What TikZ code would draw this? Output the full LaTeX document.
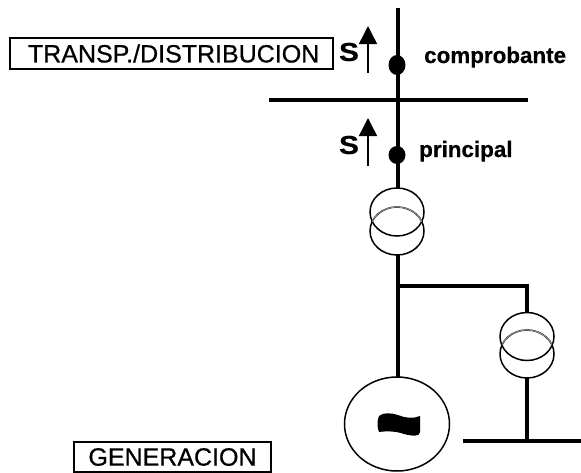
\documentclass[tikz,border=0pt]{standalone}
\usepackage{fontspec}
\setmainfont{Liberation Sans}
\newfontfamily\heavyreg[FakeBold=0.7]{Liberation Sans}
\newfontfamily\heavybold[FakeBold=0.5]{Liberation Sans Bold}
\usetikzlibrary{shapes.geometric,arrows.meta}
\tikzset{
  x=1pt,y=-1pt,
  bus/.style={line width=4.4pt},
  winding/.style={draw,ellipse,line width=1.5pt,inner sep=0pt,outer sep=0pt,minimum width=54pt,minimum height=48pt},
  machine/.style={draw,ellipse,line width=1.5pt,inner sep=0pt,outer sep=0pt,minimum width=105pt,minimum height=94pt},
  labelbox/.style={draw,line width=1.6pt,inner sep=0pt,outer sep=0pt,font=\fontsize{25}{25}\heavyreg},
  meter/.style={fill=black,ellipse,inner sep=0pt,outer sep=0pt},
  powerarrow/.style={line width=1.4pt,-{Triangle[length=18pt,width=18pt]}},
  tag/.style={inner sep=0pt,font=\fontsize{22.4}{22}\heavybold},
  powertag/.style={inner sep=0pt,xscale=1.15,font=\fontsize{26}{26}\heavybold},
  innerarc/.style={line width=1pt,color=black!45}
}
\begin{document}
\begin{tikzpicture}
\useasboundingbox (0,0) rectangle (581,472);
% named points
\coordinate (top) at (398,8);
\coordinate (barL) at (269,100);
\coordinate (barR) at (528,100);
\coordinate (branch) at (398,286);
\coordinate (corner) at (527,286);
\coordinate (busL) at (463,441);
\coordinate (busR) at (581,441);
\coordinate (busC) at (527,441);
\coordinate (a1s) at (368,73);
\coordinate (a1e) at (368,26);
\coordinate (a2s) at (368,166);
\coordinate (a2e) at (368,118);
% elements
\node[winding] (t1b) at (397,231) {};
\node[winding] (t1a) at (397,212) {};
\node[winding] (t2b) at (527,354) {};
\node[winding] (t2a) at (527,336.5) {};
\node[machine] (gen) at (397,424) {};
\node[meter,minimum width=17pt,minimum height=20pt] (m1) at (397,65) {};
\node[meter,minimum width=17pt,minimum height=18pt] (m2) at (397,155) {};
% grey inner arcs
\draw[innerarc] ([shift={(23:27pt and 24pt)}]t1b.center) arc[start angle=23,end angle=157,x radius=27pt,y radius=24pt];
\draw[innerarc] ([shift={(23:27pt and 24pt)}]t2b.center) arc[start angle=23,end angle=157,x radius=27pt,y radius=24pt];
% connectors
\draw[bus] (top) -- (t1a.north -| top);
\draw[bus] (barL) -- (barR);
\draw[bus] (t1b.south -| top) -- (gen.north -| top);
\draw[bus,line cap=rect] (branch) -- (corner);
\draw[bus] (corner) -- (t2a.north);
\draw[bus] (t2b.south) -- (busC);
\draw[bus] (busL) -- (busR);
\draw[powerarrow] (a1s) -- (a1e);
\draw[powerarrow] (a2s) -- (a2e);
% tilde
\fill (379,416) .. controls (383,412) and (392,413) .. (398,415) .. controls (405,418) and (413,419) .. (420,416)
  -- (420,432) .. controls (420,437) and (412,436) .. (404,434) .. controls (396,431) and (386,431) .. (379,432)
  .. controls (377,428) and (377,420) .. (379,416) -- cycle;
% labels
\node[labelbox,minimum width=323pt,minimum height=31pt,text width=323pt,align=left] (bt) at (171.5,53.5) {\hspace{18pt}TRANSP./DISTRIBUCION};
\node[labelbox,minimum width=197pt,minimum height=30pt] (bg) at (172.5,457) {GENERACION};
\node[powertag] (s1) at (349,52) {S};
\node[powertag] (s2) at (349,145) {S};
\node[tag,anchor=base west] (l1) at (424,63) {comprobante};
\node[tag,anchor=base west] (l2) at (419,157) {principal};
\end{tikzpicture}
\end{document}
